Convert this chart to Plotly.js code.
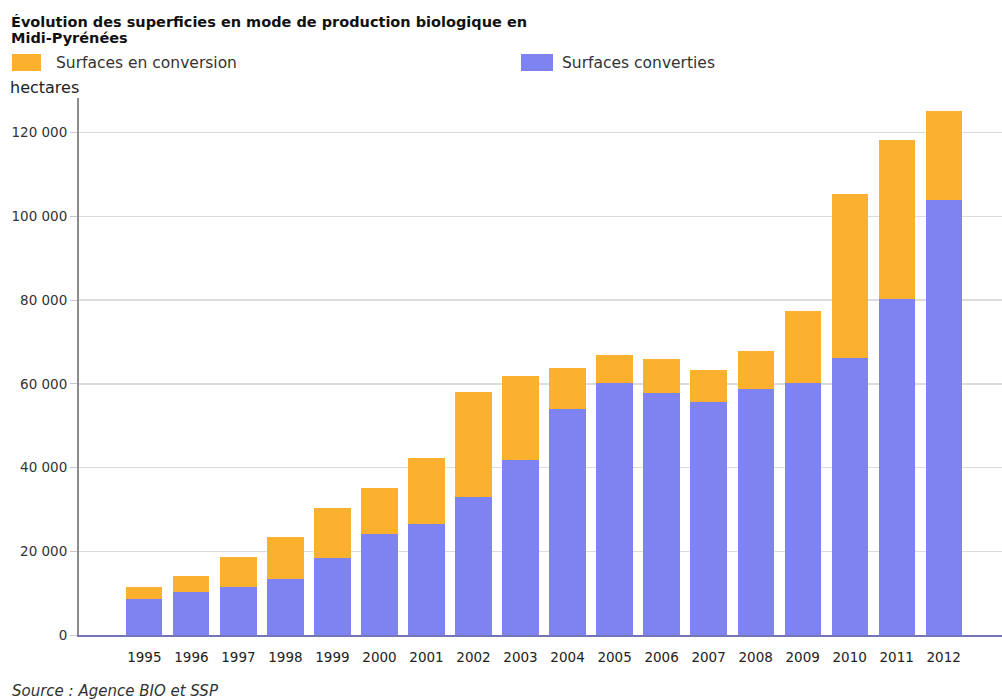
<!DOCTYPE html>
<html>
<head>
<meta charset="utf-8">
<script src="https://cdn.plot.ly/plotly-3.0.1.min.js"></script>
<style>html,body{margin:0;padding:0;background:#fff;}#chart{width:1002px;height:700px;}</style>
</head>
<body>
<div id="chart"></div>
<script>
// Data (hectares)
var years = ["1995","1996","1997","1998","1999","2000","2001","2002","2003","2004","2005","2006","2007","2008","2009","2010","2011","2012"];
var converties = [8500, 10300, 11500, 13500, 18500, 24200, 26600, 33000, 41700, 54000, 60300, 57800, 55700, 58700, 60300, 66300, 80200, 103900];
var enConversion = [2900, 3800, 7200, 9900, 11800, 10900, 15700, 25100, 20200, 9700, 6600, 8200, 7700, 9100, 17000, 39000, 38100, 21200];
var yTicks = [0, 20000, 40000, 60000, 80000, 100000, 120000];

var orange = "#fcb12e";
var blue = "#7f83f1";
var W = 1002, H = 700;
var mL = 79, mR = 0, mT = 98, mB = 65;
function px(x){ return (x - mL) / (W - mL - mR); }
function py(y){ return (H - mB - y) / (H - mT - mB); }

var font = "DejaVu Sans, Verdana, sans-serif";

var traces = [
  {type:"bar", name:"Surfaces converties", x:years, y:converties, marker:{color:blue}, hoverinfo:"x+y+name"},
  {type:"bar", name:"Surfaces en conversion", x:years, y:enConversion, marker:{color:orange}, hoverinfo:"x+y+name"}
];

var layout = {
  width: W, height: H,
  margin: {l:mL, r:mR, t:mT, b:mB, pad:0},
  paper_bgcolor:"#fff", plot_bgcolor:"#fff",
  barmode:"stack", bargap:0.23,
  showlegend:false,
  separators:", ",
  font:{family:font, size:13.5, color:"#333"},
  xaxis:{
    type:"category", range:[-1.39, 18.24], fixedrange:true,
    showgrid:false, showline:true, linecolor:"#7474b8", linewidth:2,
    ticks:"", ticklabelstandoff:9,
    tickfont:{family:font, size:13.5, color:"#222"}
  },
  yaxis:{
    range:[0, 128300], fixedrange:true,
    tickvals:yTicks, tickformat:",d",
    showgrid:true, gridcolor:"#dcdcdc", gridwidth:1.5,
    zeroline:false, showline:true, linecolor:"#8c8c8c", linewidth:2,
    ticks:"outside", ticklen:7, tickcolor:"#c8c8c8", tickwidth:1,
    tickfont:{family:font, size:13.5, color:"#333"}
  },
  shapes:[
    {type:"rect", xref:"paper", yref:"paper", x0:px(12), x1:px(41), y0:py(71), y1:py(54), fillcolor:orange, line:{width:0}},
    {type:"rect", xref:"paper", yref:"paper", x0:px(521), x1:px(553), y0:py(71), y1:py(54), fillcolor:blue, line:{width:0}}
  ],
  annotations:[
    {xref:"paper", yref:"paper", x:px(9), y:py(22), xanchor:"left", yanchor:"middle", showarrow:false, align:"left",
     text:"<b>Évolution des superficies en mode de production biologique en</b>",
     font:{family:font, size:14.5, color:"#111"}},
    {xref:"paper", yref:"paper", x:px(9), y:py(38), xanchor:"left", yanchor:"middle", showarrow:false, align:"left",
     text:"<b>Midi-Pyrénées</b>",
     font:{family:font, size:14.5, color:"#111"}},
    {xref:"paper", yref:"paper", x:px(54), y:py(63), xanchor:"left", yanchor:"middle", showarrow:false,
     text:"Surfaces en conversion", font:{family:font, size:15.5, color:"#333"}},
    {xref:"paper", yref:"paper", x:px(560), y:py(63), xanchor:"left", yanchor:"middle", showarrow:false,
     text:"Surfaces converties", font:{family:font, size:15.5, color:"#333"}},
    {xref:"paper", yref:"paper", x:px(8), y:py(88), xanchor:"left", yanchor:"middle", showarrow:false,
     text:"hectares", font:{family:font, size:16, color:"#222"}},
    {xref:"paper", yref:"paper", x:px(10), y:py(691), xanchor:"left", yanchor:"middle", showarrow:false,
     text:"<i>Source : Agence BIO et SSP</i>", font:{family:font, size:15, color:"#333"}}
  ]
};

Plotly.newPlot("chart", traces, layout, {displayModeBar:false, staticPlot:true});
</script>
</body>
</html>
